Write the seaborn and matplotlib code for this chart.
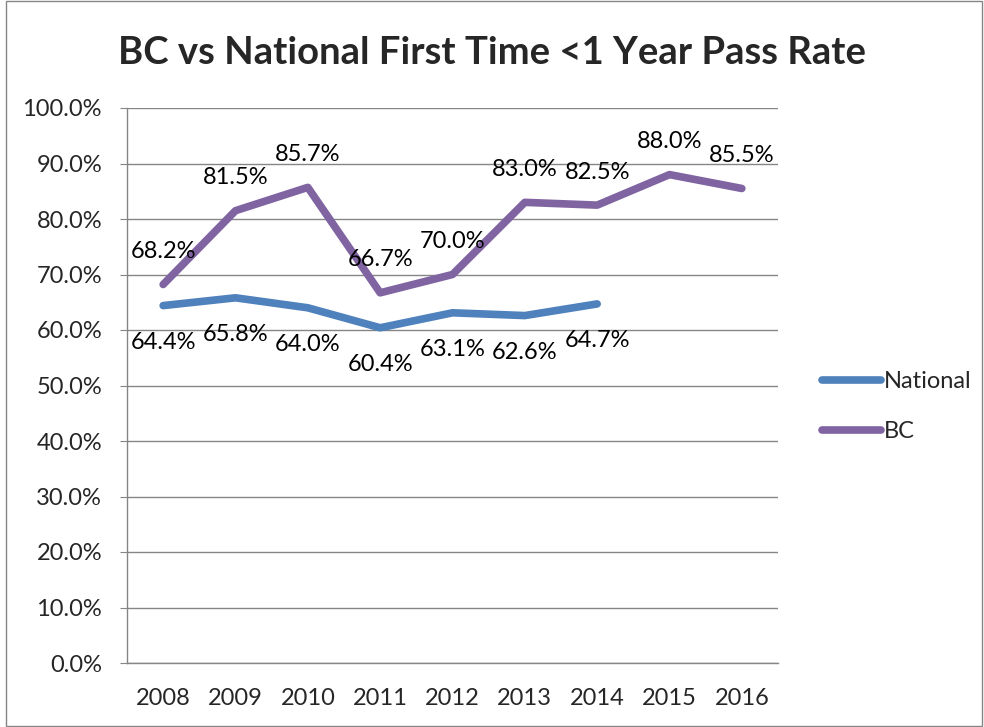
import pandas as pd
import seaborn as sns
import matplotlib.pyplot as plt
from matplotlib.patches import Rectangle

years = ["2008", "2009", "2010", "2011", "2012", "2013", "2014", "2015", "2016"]
national = [64.4, 65.8, 64.0, 60.4, 63.1, 62.6, 64.7, None, None]
bc = [68.2, 81.5, 85.7, 66.7, 70.0, 83.0, 82.5, 88.0, 85.5]
series_names = ["National", "BC"]
colors = ["#4F81BD", "#8064A2"]

rows = []
for name, vals in zip(series_names, [national, bc]):
    for i, (yr, v) in enumerate(zip(years, vals)):
        if v is not None:
            rows.append({"pos": i, "Year": yr, "Rate": v, "Series": name})
df = pd.DataFrame(rows)

sns.set_style("white")
plt.rcParams['font.family'] = ['Lato', 'DejaVu Sans']

fig = plt.figure(figsize=(9.84, 7.27), dpi=100)
ax = fig.add_axes([127 / 984, 1 - 663 / 727, 651 / 984, 555 / 727])

lw = 5.5
sns.lineplot(data=df, x="pos", y="Rate", hue="Series", palette=colors,
             hue_order=series_names, linewidth=lw, ax=ax, legend=True,
             solid_capstyle="round", solid_joinstyle="round")

# data labels
for name, vals, dy in [("National", national, -37), ("BC", bc, 33)]:
    for i, v in enumerate(vals):
        if v is None:
            continue
        ax.annotate(f"{v:.1f}%", (i, v), xytext=(0, dy), textcoords="offset pixels",
                    ha="center", va="center", fontsize=17, color="black")

ax.set_xlim(-0.5, 8.5)
ax.set_ylim(0, 100)
ax.set_yticks(range(0, 101, 10))
ax.set_yticklabels([f"{t:.1f}%" for t in range(0, 101, 10)], fontsize=17)
ax.set_xticks(range(len(years)))
ax.set_xticklabels(years, fontsize=17)
ax.set_xticks([i - 0.5 for i in range(len(years) + 1)], minor=True)
ax.tick_params(axis="x", which="major", length=0, pad=18)
ax.tick_params(axis="x", which="minor", length=6, color="#868686", direction="out")
ax.tick_params(axis="y", length=5, color="#868686", direction="out", pad=13, left=True)
ax.grid(axis="y", color="#868686", linewidth=1)
ax.set_axisbelow(True)
for s in ["top", "right"]:
    ax.spines[s].set_visible(False)
for s in ["left", "bottom"]:
    ax.spines[s].set_color("#868686")
    ax.spines[s].set_linewidth(1)
ax.set_xlabel("")
ax.set_ylabel("")

leg = ax.legend(loc="center left", bbox_to_anchor=(1.035, 0.462), frameon=False,
                fontsize=17, handlelength=2.5, labelspacing=1.22, handletextpad=0.1)
for line in leg.get_lines():
    line.set_linewidth(lw)
    line.set_solid_capstyle("round")

fig.text(0.5, 1 - 53 / 727, "BC vs National First Time <1 Year Pass Rate",
         ha="center", va="center", fontsize=27.5, fontweight="bold")

fig.patches.append(Rectangle((0.006, 0.002), 0.992, 0.996, transform=fig.transFigure,
                             fill=False, edgecolor="#868686", linewidth=1))

fig.savefig("out.png", dpi=100)
